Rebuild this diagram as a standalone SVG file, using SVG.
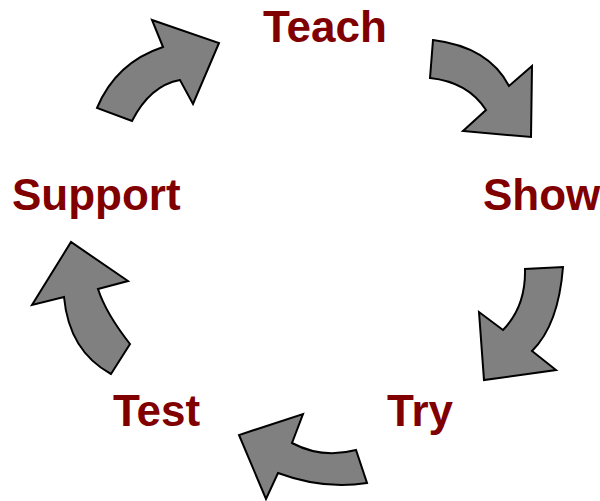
<svg xmlns="http://www.w3.org/2000/svg" width="600" height="501" viewBox="0 0 600 501">
<style>
.arrow{fill:#808080;stroke:#000;stroke-width:2;stroke-linejoin:miter}
.lbl{font-family:"Liberation Sans",Arial,sans-serif;font-weight:bold;font-size:44px;fill:#800000}
</style>
<rect width="600" height="501" fill="#fff"/>
<g id="connectors">
<path id="arrow-teach" class="arrow" d="M97,108 Q116,62.5 163,47 L152,20 L219,43 L193,104 L180,80 Q150,85.5 132,121 Z"/>
<path id="arrow-show" class="arrow" d="M433,40 Q489,47 509,86 L532,66 L531,137 L463,131 L486,110 Q468,82 430,78 Z"/>
<path id="arrow-try" class="arrow" d="M563,267 Q558.5,325 532,351 L556,370 L484,380 L479,312 L503,330 Q526,306.5 525,269 Z"/>
<path id="arrow-test" class="arrow" d="M367,483 Q323.5,490 278,473 L266,499 L239,435 L303,414 L292,443 Q322,459 356,450 Z"/>
<path id="arrow-support" class="arrow" d="M111,374 Q69,351 64,297 L32,305 L71,242 L128,281 L98,289 Q106,313.5 130,344 Z"/>
</g>
<g id="node-teach"><text class="lbl" x="263" y="42">Teach</text></g>
<g id="node-show"><text class="lbl" x="483" y="209.5">Show</text></g>
<g id="node-try"><text class="lbl" x="387" y="426">Try</text></g>
<g id="node-test"><text class="lbl" x="113" y="426">Test</text></g>
<g id="node-support"><text class="lbl" x="12" y="209.5">Support</text></g>
</svg>
